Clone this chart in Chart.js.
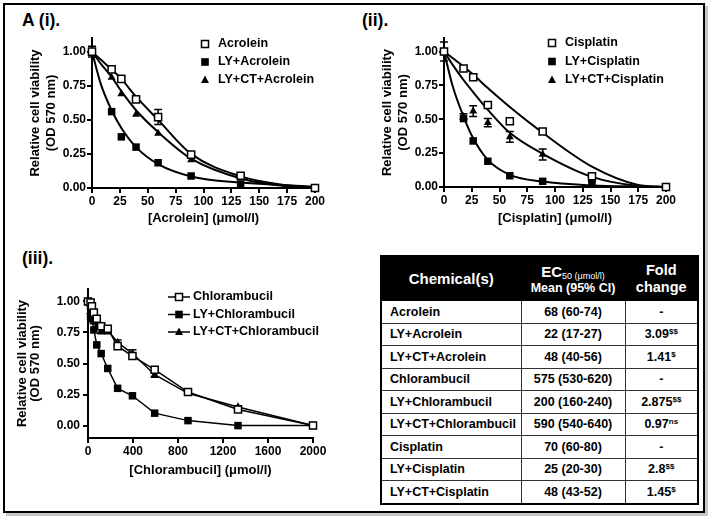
<!DOCTYPE html>
<html><head><meta charset="utf-8">
<script src="https://cdn.jsdelivr.net/npm/chart.js@4.4.1/dist/chart.umd.min.js"></script>
<style>
body{margin:0;width:710px;height:517px;background:#fff;position:relative;overflow:hidden;font-family:"Liberation Sans",Arial,sans-serif;}
#frame{position:absolute;left:3px;top:3px;width:698px;height:506px;border:2px solid #000;box-shadow:3px 3px 0 #c8c8c8;}
.panel{position:absolute;width:345px;height:240px;}
.lab{position:absolute;font-weight:bold;font-size:17.5px;line-height:20px;}
#tbl{position:absolute;left:380px;top:255px;width:317px;border-collapse:collapse;table-layout:fixed;border:2px solid #000;font-weight:bold;font-size:12.5px;}
#tbl th{background:#000;color:#fff;height:43px;padding:0;font-weight:bold;text-align:center;vertical-align:middle;border:1px solid #000;}
#tbl td{height:21.5px;padding:0;border:1px solid #333;text-align:center;vertical-align:middle;}
#tbl td.c1{text-align:left;padding-left:8px;}
#tbl sup{font-size:8px;vertical-align:4px;line-height:0;}
</style></head>
<body>
<div id="frame"></div>
<div class="lab" style="left:22px;top:10px;">A (i).</div>
<div class="lab" style="left:362px;top:10px;">(ii).</div>
<div class="lab" style="left:22px;top:248px;">(iii).</div>
<div class="panel" style="left:0;top:0;"><canvas id="c1"></canvas></div>
<div class="panel" style="left:352px;top:0;"><canvas id="c2"></canvas></div>
<div class="panel" style="left:0;top:250px;"><canvas id="c3"></canvas></div>
<table id="tbl">
<colgroup><col style="width:140px"><col style="width:104px"><col style="width:73px"></colgroup>
<thead><tr>
<th style="font-size:15px;">Chemical(s)</th>
<th><div style="line-height:15px;"><span style="font-size:15px;">EC</span><span style="font-size:9px;font-weight:normal;position:relative;top:2px;">50 (μmol/l)</span></div><div style="font-size:12.5px;line-height:12px;">Mean (95% CI)</div></th>
<th style="font-size:14.5px;line-height:17px;">Fold<br>change</th>
</tr></thead>
<tbody id="tbody"></tbody>
</table>
<script>
// ---------- data ----------
const yTicks = [0, 0.25, 0.5, 0.75, 1.0];

// (i) Acrolein
const acroX = [0, 17.6, 26.3, 39.5, 59.3, 88.9, 133.3, 200];
const acrolein = [1.00, 0.87, 0.80, 0.65, 0.52, 0.245, 0.09, 0.00];
const acroleinErr = [0.04, 0.015, 0.015, 0.02, 0.055, 0.015, 0.01, 0];
const lyAcrolein = [1.00, 0.56, 0.375, 0.30, 0.185, 0.088, 0.03, 0.00];
const lyCtAcrolein = [1.00, 0.81, 0.69, 0.54, 0.40, 0.205, 0.085, 0.00];
const fitX = [0, 8, 17.6, 26.3, 39.5, 59.3, 88.9, 133.3, 175, 200];
const acroleinFit = [1.0, 0.94, 0.87, 0.80, 0.67, 0.50, 0.25, 0.085, 0.02, 0.003];
const lyAcroleinFit = [1.0, 0.76, 0.57, 0.44, 0.30, 0.175, 0.085, 0.04, 0.02, 0.01];
const lyCtAcroleinFit = [1.0, 0.91, 0.815, 0.71, 0.57, 0.41, 0.215, 0.07, 0.012, 0.0];

// (ii) Cisplatin
const cisX = [0, 17.6, 26.3, 39.5, 59.3, 88.9, 133.3, 200];
const cisplatin = [1.00, 0.875, 0.81, 0.605, 0.485, 0.41, 0.08, 0.00];
const cisplatinErr = [0.07, 0.015, 0.02, 0.02, 0.02, 0.02, 0.02, 0];
const lyCisplatin = [1.00, 0.505, 0.34, 0.19, 0.083, 0.042, 0.03, 0.00];
const lyCtCisplatin = [1.00, 0.52, 0.56, 0.475, 0.37, 0.24, 0.06, 0.00];
const lyCtCisplatinErr = [0, 0.02, 0.04, 0.03, 0.04, 0.04, 0.02, 0];
const cisplatinFit = [1.0, 0.95, 0.89, 0.83, 0.73, 0.59, 0.40, 0.15, 0.015, 0.0];
const lyCisplatinFit = [1.0, 0.74, 0.52, 0.36, 0.20, 0.09, 0.04, 0.012, 0.004, 0.002];
const lyCtCisplatinFit = [1.0, 0.90, 0.79, 0.70, 0.57, 0.40, 0.245, 0.075, 0.008, 0.0];

// (iii) Chlorambucil
const chlX = [0, 23.1, 34.7, 52, 78, 117.1, 175.6, 263.4, 395.1, 592.6, 888.9, 1333.3, 2000];
const chlorambucil = [1.00, 0.99, 0.96, 0.91, 0.86, 0.80, 0.78, 0.64, 0.56, 0.45, 0.27, 0.13, 0.00];
const lyChlorambucil = [1.00, 0.88, 0.86, 0.77, 0.65, 0.58, 0.46, 0.30, 0.24, 0.10, 0.04, 0.00, 0.00];
const lyCtChlorambucil = [1.00, 0.92, 0.88, 0.84, 0.80, 0.76, 0.77, 0.67, 0.58, 0.41, 0.26, 0.15, 0.00];
const lyCtChlorambucilErr = [0, 0.02, 0.02, 0.02, 0.02, 0.02, 0.03, 0.02, 0.03, 0.02, 0.01, 0.01, 0];

// table
const chemicals = ['Acrolein','LY+Acrolein','LY+CT+Acrolein','Chlorambucil','LY+Chlorambucil','LY+CT+Chlorambucil','Cisplatin','LY+Cisplatin','LY+CT+Cisplatin'];
const ec50 = ['68 (60-74)','22 (17-27)','48 (40-56)','575 (530-620)','200 (160-240)','590 (540-640)','70 (60-80)','25 (20-30)','48 (43-52)'];
const foldChange = ['-','3.09','1.41','-','2.875','0.97','-','2.8','1.45'];
const foldMark = ['','$$','$','','$$','ns','','$$','$'];

// ---------- table ----------
const tb = document.getElementById('tbody');
chemicals.forEach((c,i)=>{
  const tr = document.createElement('tr');
  tr.innerHTML = `<td class="c1">${c}</td><td>${ec50[i]}</td><td>${foldChange[i]}${foldMark[i]?'<sup>'+foldMark[i]+'</sup>':''}</td>`;
  tb.appendChild(tr);
});

// ---------- charts ----------
const FONT = '"Liberation Sans", Arial, sans-serif';
Chart.defaults.font.family = FONT;
Chart.defaults.font.weight = 'bold';
Chart.defaults.color = '#000';

const pts = (xs, ys) => xs.map((x,i)=>({x, y: ys[i]}));

function drawMarker(ctx, style, x, y) {
  ctx.save();
  ctx.lineWidth = 1.5;
  ctx.strokeStyle = '#000';
  if (style === 'open') {
    ctx.fillStyle = '#fff';
    ctx.fillRect(x-3.5, y-3.5, 7, 7);
    ctx.strokeRect(x-3.5, y-3.5, 7, 7);
  } else if (style === 'filled') {
    ctx.fillStyle = '#000';
    ctx.fillRect(x-3.8, y-3.8, 7.6, 7.6);
  } else {
    ctx.fillStyle = '#000';
    ctx.beginPath();
    ctx.moveTo(x, y-4.5); ctx.lineTo(x+4, y+3); ctx.lineTo(x-4, y+3); ctx.closePath();
    ctx.fill();
  }
  ctx.restore();
}

const errorBars = {
  id: 'errorBars',
  beforeDatasetsDraw(chart) {
    const ctx = chart.ctx;
    const ys = chart.scales.y;
    chart.data.datasets.forEach((ds, di) => {
      if (!ds.errors) return;
      const meta = chart.getDatasetMeta(di);
      meta.data.forEach((el, i) => {
        const e = ds.errors[i];
        if (!e) return;
        const v = ds.data[i].y;
        const yt = ys.getPixelForValue(v + e), yb = ys.getPixelForValue(v - e);
        ctx.save();
        ctx.strokeStyle = '#000'; ctx.lineWidth = 1.5;
        ctx.beginPath();
        ctx.moveTo(el.x, yt); ctx.lineTo(el.x, yb);
        ctx.moveTo(el.x - 4, yt); ctx.lineTo(el.x + 4, yt);
        ctx.moveTo(el.x - 4, yb); ctx.lineTo(el.x + 4, yb);
        ctx.stroke();
        ctx.restore();
      });
    });
  }
};

const customLegend = {
  id: 'customLegend',
  afterDraw(chart, args, opts) {
    if (!opts || !opts.items) return;
    const ctx = chart.ctx;
    ctx.save();
    ctx.font = 'bold 12.5px ' + FONT;
    ctx.textBaseline = 'middle';
    ctx.fillStyle = '#000';
    opts.items.forEach((it, i) => {
      const y = opts.y + i * opts.dy;
      if (opts.line) {
        ctx.strokeStyle = '#000'; ctx.lineWidth = 1.5;
        ctx.beginPath(); ctx.moveTo(opts.mx - 11, y); ctx.lineTo(opts.mx + 11, y); ctx.stroke();
      }
      drawMarker(ctx, it.style, opts.mx, y);
      ctx.fillStyle = '#000';
      ctx.fillText(it.text, opts.tx, y);
    });
    ctx.restore();
  }
};

function pointDs(label, xs, ys, style, errs, line) {
  const ds = {
    label, data: pts(xs, ys), showLine: !!line, borderColor: '#000', borderWidth: 1.5,
    pointStyle: style === 'tri' ? 'triangle' : 'rect',
    pointRadius: style === 'tri' ? 4.6 : (style === 'open' ? 5 : 5.3),
    pointBackgroundColor: style === 'open' ? '#fff' : '#000',
    pointBorderColor: '#000', pointBorderWidth: style === 'open' ? 1.5 : 0,
    pointHoverRadius: 5, clip: false, tension: 0, order: 1
  };
  if (errs) ds.errors = errs;
  return ds;
}
function fitDs(xs, ys) {
  return { data: pts(xs, ys), showLine: true, borderColor: '#000', borderWidth: 2,
    pointRadius: 0, cubicInterpolationMode: 'monotone', clip: false, order: 2 };
}

function makeChart(id, o) {
  new Chart(document.getElementById(id), {
    type: 'scatter',
    data: { datasets: o.datasets },
    plugins: [errorBars, customLegend],
    options: {
      responsive: true, maintainAspectRatio: false, animation: false,
      events: [],
      layout: { padding: { left: 0, top: o.top, right: 345 - o.right, bottom: 0 } },
      plugins: { legend: { display: false }, tooltip: { enabled: false }, customLegend: o.legend },
      scales: {
        x: {
          type: 'linear', min: 0, max: o.xmax,
          afterFit: s => { s.height = 240 - o.bottom; },
          border: { display: true, color: '#000', width: 2 },
          grid: { display: true, drawOnChartArea: false, drawTicks: true, tickLength: 5, color: '#000', lineWidth: 2 },
          ticks: { stepSize: o.xstep, autoSkip: false, maxRotation: 0, padding: 1, font: { size: 12, weight: 'bold' }, color: '#000', callback: v => String(v) },
          title: { display: true, text: o.xtitle, font: { size: 13, weight: 'bold' }, color: '#000', padding: { top: 0, bottom: o.xtpb } }
        },
        y: {
          type: 'linear', min: o.ymin, max: 1.1,
          afterFit: s => { s.width = o.left; },
          afterBuildTicks: s => { s.ticks = yTicks.map(v => ({ value: v })); },
          border: { display: true, color: '#000', width: 2 },
          grid: { display: true, drawOnChartArea: false, drawTicks: true, tickLength: 5, color: '#000', lineWidth: 2 },
          ticks: { padding: o.ytp, font: { size: 12, weight: 'bold' }, color: '#000', callback: v => Number(v).toFixed(2) },
          title: { display: true, text: ['Relative cell viability', '(OD 570 nm)'], font: { size: 13, weight: 'bold', lineHeight: o.ylh }, color: '#000', padding: { top: o.ytpt, bottom: 0 } }
        }
      }
    }
  });
}

makeChart('c1', {
  left: 92, top: 38, right: 315, bottom: 188, xmax: 200, xstep: 25, ymin: 0,
  xtitle: '[Acrolein] (μmol/l)', xtpb: 14, ytp: 1, ylh: 1.3, ytpt: 26.5,
  legend: { mx: 205, tx: 218, y: 44, dy: 18, items: [
    { text: 'Acrolein', style: 'open' }, { text: 'LY+Acrolein', style: 'filled' }, { text: 'LY+CT+Acrolein', style: 'tri' } ] },
  datasets: [
    pointDs('Acrolein', acroX, acrolein, 'open', acroleinErr),
    pointDs('LY+Acrolein', acroX, lyAcrolein, 'filled'),
    pointDs('LY+CT+Acrolein', acroX, lyCtAcrolein, 'tri'),
    fitDs(fitX, acroleinFit), fitDs(fitX, lyAcroleinFit), fitDs(fitX, lyCtAcroleinFit)
  ]
});

makeChart('c2', {
  left: 92, top: 38, right: 314, bottom: 187, xmax: 200, xstep: 25, ymin: 0,
  xtitle: '[Cisplatin] (μmol/l)', xtpb: 14, ytp: 1, ylh: 1.3, ytpt: 26.5,
  legend: { mx: 200, tx: 213, y: 43, dy: 18.5, items: [
    { text: 'Cisplatin', style: 'open' }, { text: 'LY+Cisplatin', style: 'filled' }, { text: 'LY+CT+Cisplatin', style: 'tri' } ] },
  datasets: [
    pointDs('Cisplatin', cisX, cisplatin, 'open', cisplatinErr),
    pointDs('LY+Cisplatin', cisX, lyCisplatin, 'filled'),
    pointDs('LY+CT+Cisplatin', cisX, lyCtCisplatin, 'tri', lyCtCisplatinErr),
    fitDs(fitX, cisplatinFit), fitDs(fitX, lyCisplatinFit), fitDs(fitX, lyCtCisplatinFit)
  ]
});

makeChart('c3', {
  left: 88, top: 39, right: 313, bottom: 188, xmax: 2000, xstep: 400, ymin: -0.1,
  xtitle: '[Chlorambucil] (μmol/l)', xtpb: 12, ytp: 3, ylh: 1.0, ytpt: 15.5,
  legend: { line: true, mx: 179, tx: 193, y: 47, dy: 17.5, items: [
    { text: 'Chlorambucil', style: 'open' }, { text: 'LY+Chlorambucil', style: 'filled' }, { text: 'LY+CT+Chlorambucil', style: 'tri' } ] },
  datasets: [
    pointDs('Chlorambucil', chlX, chlorambucil, 'open', null, true),
    pointDs('LY+Chlorambucil', chlX, lyChlorambucil, 'filled', null, true),
    pointDs('LY+CT+Chlorambucil', chlX, lyCtChlorambucil, 'tri', lyCtChlorambucilErr, true)
  ]
});
</script>
</body></html>
